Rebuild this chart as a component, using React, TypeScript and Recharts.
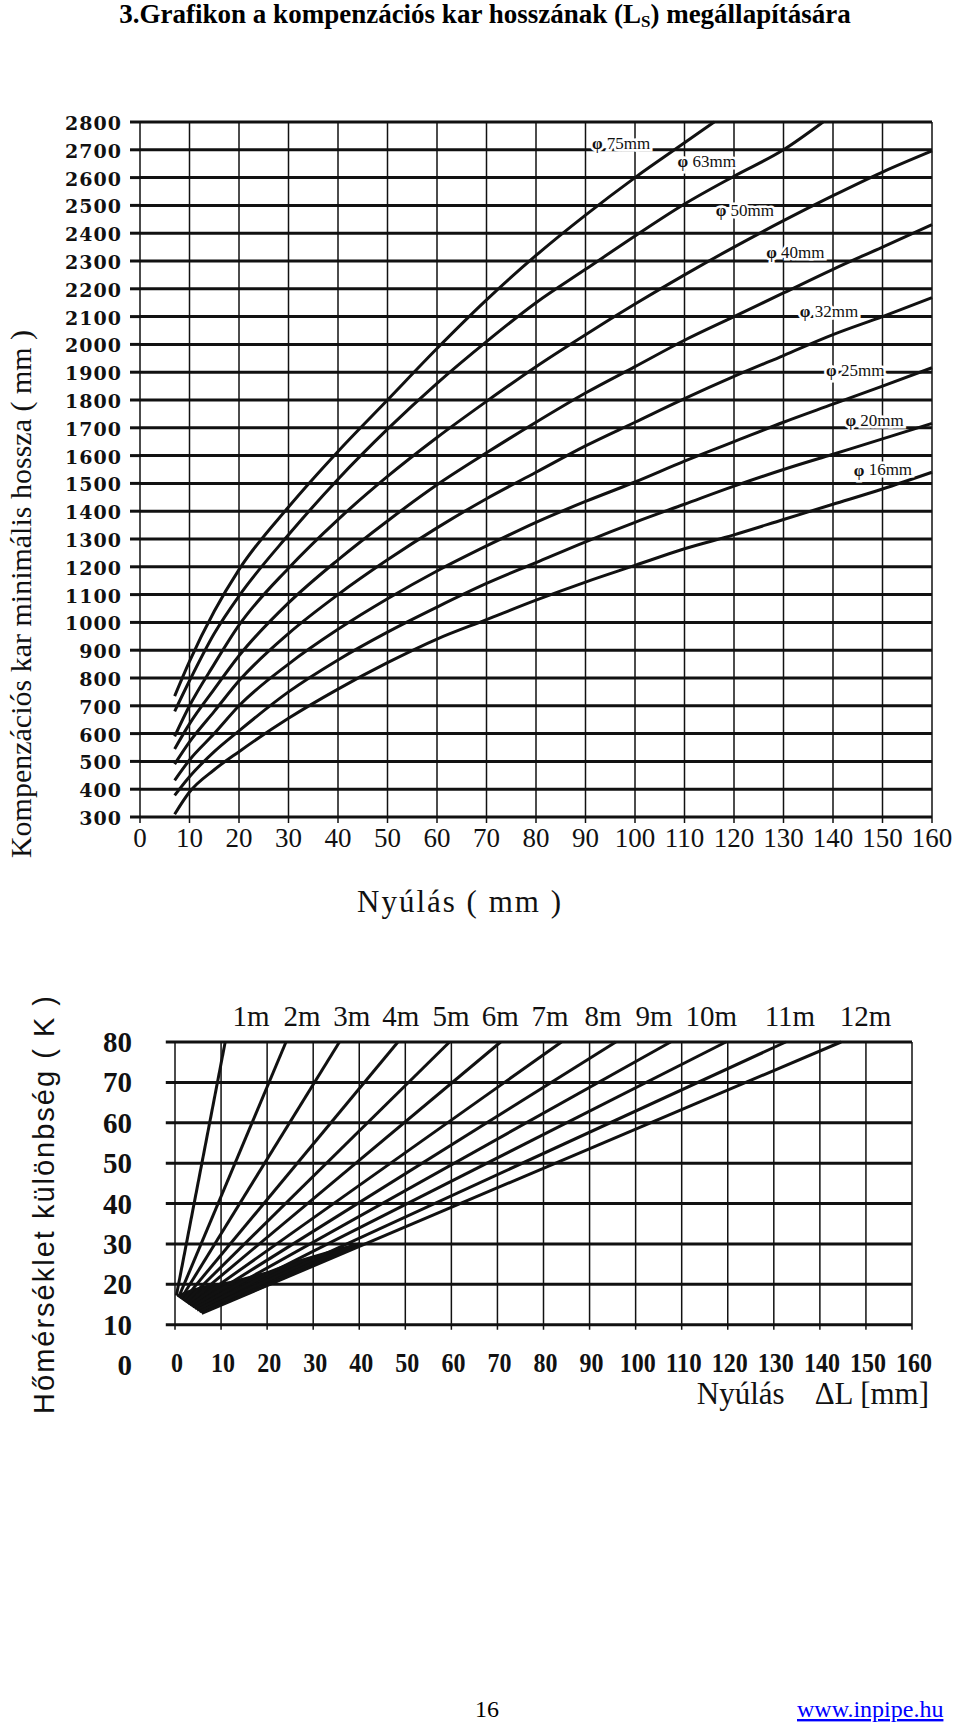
import React from 'react';
import {
  LineChart,
  ComposedChart,
  Line,
  Area,
  XAxis,
  YAxis,
  CartesianGrid,
  ReferenceLine,
  ReferenceDot,
} from 'recharts';

// ---- felső grafikon: kompenzációs kar minimális hossza ----
const nyulasTicks = [0, 10, 20, 30, 40, 50, 60, 70, 80, 90, 100, 110, 120, 130, 140, 150, 160];
const hosszTicks = [
  300, 400, 500, 600, 700, 800, 900, 1000, 1100, 1200, 1300, 1400, 1500,
  1600, 1700, 1800, 1900, 2000, 2100, 2200, 2300, 2400, 2500, 2600, 2700, 2800,
];

const atmerok = ['75mm', '63mm', '50mm', '40mm', '32mm', '25mm', '20mm', '16mm'];

const nyulasPontok = [7, 10, 15, 20, 30, 40, 50, 60, 70, 80, 90, 100, 110, 120, 130, 140, 150, 160];
const nyulas75 = [7, 10, 15, 20, 30, 40, 50, 60, 70, 80, 90, 100, 110, 116];
const nyulas63 = [7, 10, 15, 20, 30, 40, 50, 60, 70, 80, 90, 100, 110, 120, 130, 138];

const hossz75 = [735, 860, 1040, 1190, 1415, 1615, 1800, 1985, 2160, 2320, 2465, 2600, 2725, 2800];
const hossz63 = [680, 790, 960, 1095, 1315, 1515, 1695, 1860, 2010, 2150, 2270, 2390, 2505, 2605, 2700, 2800];
const hossz50 = [590, 700, 850, 990, 1195, 1370, 1525, 1665, 1795, 1920, 2035, 2145, 2250, 2350, 2445, 2535, 2620, 2696];
const hossz40 = [545, 635, 760, 880, 1070, 1225, 1365, 1495, 1610, 1720, 1825, 1920, 2015, 2100, 2185, 2270, 2350, 2431];
const hossz32 = [490, 570, 680, 790, 960, 1100, 1225, 1340, 1445, 1540, 1635, 1720, 1805, 1885, 1960, 2035, 2100, 2168];
const hossz25 = [432, 505, 600, 700, 850, 975, 1085, 1185, 1275, 1360, 1435, 1505, 1580, 1650, 1720, 1785, 1850, 1916];
const hossz20 = [378, 445, 535, 610, 750, 865, 965, 1055, 1140, 1215, 1290, 1360, 1425, 1490, 1550, 1605, 1660, 1716];
const hossz16 = [310, 390, 470, 535, 655, 760, 855, 940, 1010, 1080, 1145, 1205, 1265, 1315, 1370, 1425, 1480, 1540];

// cimkék helye (adat-koordinátában)
const cimkeHely = [
  { x: 91.3, y: 2723 },
  { x: 108.6, y: 2659 },
  { x: 116.3, y: 2482 },
  { x: 126.5, y: 2331 },
  { x: 133.3, y: 2119 },
  { x: 138.6, y: 1907 },
  { x: 142.5, y: 1728 },
  { x: 144.2, y: 1549 },
];

// ---- alsó grafikon: hőmérséklet különbség ----
const homTicks = [0, 10, 20, 30, 40, 50, 60, 70, 80];
const racsHom = [10, 20, 30, 40, 50, 60, 70, 80];
const csohosszak = ['1m', '2m', '3m', '4m', '5m', '6m', '7m', '8m', '9m', '10m', '11m', '12m'];
const kezdoNyulas = [0.3, 0.8, 1.3, 1.8, 2.3, 2.8, 3.3, 3.8, 4.3, 4.8, 5.3, 5.8];
const kezdoHom = [17.2, 16.8, 16.4, 16.0, 15.6, 15.2, 14.8, 14.4, 14.0, 13.6, 13.2, 12.8];
const vegNyulas = [10.9, 24.1, 35.7, 48.4, 59.6, 70.7, 83.9, 95.7, 107.6, 119.6, 132.6, 144.6];
const vegHom = [80, 80, 80, 80, 80, 80, 80, 80, 80, 80, 80, 80];

// a vonalak összefutásánál lévő fekete folt
const foltNyulas = [0.4, 3, 6, 12, 20, 26, 33, 40];
const foltAlso = [17, 14.9, 12.7, 15.6, 19.4, 22.4, 25.8, 29.4];
const foltFelso = [17.4, 18.6, 19.6, 20.8, 23.2, 25.8, 28.2, 30.4];

const hosszCimkeX = [16.5, 27.6, 38.4, 49.0, 59.9, 70.6, 81.4, 92.9, 104.0, 116.4, 133.5, 149.9];
const hosszCimkeY = 86.4;

const INK = '#111';
const SERIF = '"Liberation Serif", "Times New Roman", serif';

const gorbek = [
  { nev: atmerok[0], x: nyulas75, l: hossz75 },
  { nev: atmerok[1], x: nyulas63, l: hossz63 },
  { nev: atmerok[2], x: nyulasPontok, l: hossz50 },
  { nev: atmerok[3], x: nyulasPontok, l: hossz40 },
  { nev: atmerok[4], x: nyulasPontok, l: hossz32 },
  { nev: atmerok[5], x: nyulasPontok, l: hossz25 },
  { nev: atmerok[6], x: nyulasPontok, l: hossz20 },
  { nev: atmerok[7], x: nyulasPontok, l: hossz16 },
].map((g) => ({ nev: g.nev, data: g.x.map((x, i) => ({ x, v: g.l[i] })) }));

const folt = foltNyulas.map((x, i) => ({ x, band: [foltAlso[i], foltFelso[i]] }));

const egyenesek = csohosszak.map((nev, i) => ({
  nev,
  data: [
    { x: kezdoNyulas[i], k: kezdoHom[i] },
    { x: vegNyulas[i], k: vegHom[i] },
  ],
}));

const felsoXTick = (p: any) => (
  <text x={p.x} y={p.y + 15} textAnchor="middle" dominantBaseline="central"
    fontFamily={SERIF} fontSize={27} fill={INK}>
    {p.payload.value}
  </text>
);

const felsoYTick = (p: any) => (
  <text x={p.x} y={p.y + 1} textAnchor="end" dominantBaseline="central"
    fontFamily='"DejaVu Serif", serif' fontWeight="bold" fontSize={19} letterSpacing={1} fill={INK}>
    {p.payload.value}
  </text>
);

// a szkennelt ábra számai keskenyek: összenyomott szélesség
const alsoXTick = (p: any) => {
  const s = String(p.payload.value);
  return (
    <text x={p.x + 2} y={p.y - 2} textAnchor="middle" dominantBaseline="central"
      fontFamily={SERIF} fontWeight="bold" fontSize={27} fill={INK}
      textLength={s.length * 12} lengthAdjust="spacingAndGlyphs">
      {s}
    </text>
  );
};

const alsoYTick = (p: any) => (
  <text x={p.x} y={p.y} textAnchor="end" dominantBaseline="central"
    fontFamily={SERIF} fontWeight="bold" fontSize={29} fill={INK}>
    {p.payload.value}
  </text>
);

const App = () => {
  return (
    <div style={{ position: 'absolute', left: 0, top: 0, width: 960, height: 1724, background: '#fff' }}>
      <div style={{ position: 'absolute', left: 0, top: 0 }}>
        <LineChart width={960} height={960} margin={{ top: 122, right: 28, bottom: 113, left: 0 }}>
          <CartesianGrid horizontal vertical={false} stroke={INK} strokeWidth={3} />
          <CartesianGrid horizontal={false} vertical stroke={INK} strokeWidth={1.5} />
          <XAxis
            dataKey="x"
            type="number"
            domain={[0, 160]}
            ticks={nyulasTicks}
            interval={0}
            height={30}
            axisLine={false}
            tickLine={{ stroke: INK, strokeWidth: 1.5 }}
            tickSize={6}
            tickMargin={0}
            tick={felsoXTick}
          />
          <YAxis
            type="number"
            domain={[300, 2800]}
            ticks={hosszTicks}
            interval={0}
            width={140}
            axisLine={false}
            tickLine={{ stroke: INK, strokeWidth: 3 }}
            tickSize={10}
            tickMargin={8}
            tick={felsoYTick}
          />
          {gorbek.map((g) => (
            <Line
              key={g.nev}
              data={g.data}
              dataKey="v"
              type="monotone"
              stroke={INK}
              strokeWidth={3}
              dot={false}
              isAnimationActive={false}
            />
          ))}
          {gorbek.map((g, i) => (
            <ReferenceDot
              key={'c' + g.nev}
              x={cimkeHely[i].x}
              y={cimkeHely[i].y}
              r={0}
              ifOverflow="visible"
              shape={(p: any) => (
                <text x={p.cx} y={p.cy} dominantBaseline="central" fontFamily={SERIF} fontSize={17}
                  fill={INK} stroke="#fff" strokeWidth={5} paintOrder="stroke">
                  <tspan fontWeight="bold">φ</tspan> {g.nev}
                </text>
              )}
            />
          ))}
        </LineChart>
      </div>

      <div style={{ position: 'absolute', left: 0, top: 1000 }}>
        <ComposedChart width={960} height={420} margin={{ top: 42, right: 48, bottom: 25, left: 0 }}>
          <XAxis
            dataKey="x"
            type="number"
            domain={[0, 160]}
            ticks={nyulasTicks}
            interval={0}
            height={30}
            axisLine={false}
            tickLine={false}
            tickSize={0}
            tickMargin={0}
            tick={alsoXTick}
          />
          <YAxis
            type="number"
            domain={[0, 80]}
            ticks={homTicks}
            interval={0}
            width={175}
            axisLine={false}
            tickLine={false}
            tickSize={0}
            tickMargin={43}
            tick={alsoYTick}
          />
          {racsHom.map((v) => (
            <ReferenceLine
              key={'h' + v}
              segment={[{ x: -2, y: v }, { x: 160, y: v }]}
              ifOverflow="visible"
              stroke={INK}
              strokeWidth={3}
            />
          ))}
          {nyulasTicks.map((v) => (
            <ReferenceLine
              key={'v' + v}
              segment={[{ x: v, y: 8.7 }, { x: v, y: 80 }]}
              ifOverflow="visible"
              stroke={INK}
              strokeWidth={1.5}
            />
          ))}
          <Area
            data={folt}
            dataKey="band"
            type="linear"
            fill={INK}
            fillOpacity={1}
            stroke="none"
            isAnimationActive={false}
          />
          {egyenesek.map((e) => (
            <Line
              key={e.nev}
              data={e.data}
              dataKey="k"
              type="linear"
              stroke={INK}
              strokeWidth={3}
              dot={false}
              isAnimationActive={false}
            />
          ))}
          {csohosszak.map((nev, i) => (
            <ReferenceDot
              key={'l' + nev}
              x={hosszCimkeX[i]}
              y={hosszCimkeY}
              r={0}
              ifOverflow="visible"
              shape={(p: any) => (
                <text x={p.cx} y={p.cy} textAnchor="middle" dominantBaseline="central"
                  fontFamily={SERIF} fontSize={29} fill={INK}>
                  {nev}
                </text>
              )}
            />
          ))}
        </ComposedChart>
      </div>

      <svg width={960} height={1724} style={{ position: 'absolute', left: 0, top: 0, pointerEvents: 'none' }}>
        <text x={485} y={23} textAnchor="middle" fontFamily={SERIF} fontWeight="bold" fontSize={27} fill="#000">
          3.Grafikon a kompenzációs kar hosszának (L
          <tspan fontSize={17} dy={4}>S</tspan>
          <tspan dy={-4}>) megállapítására</tspan>
        </text>
        <text transform="translate(31,594) rotate(-90)" textAnchor="middle" fontFamily={SERIF} fontSize={30} fill={INK}>
          Kompenzációs kar minimális hossza ( mm )
        </text>
        <text x={460} y={912} textAnchor="middle" fontFamily={SERIF} fontSize={31} letterSpacing={2} fill={INK}>
          Nyúlás ( mm )
        </text>
        <text transform="translate(54,1204) rotate(-90)" textAnchor="middle"
          fontFamily='"Liberation Sans", Arial, sans-serif' fontSize={29} letterSpacing={2} fill={INK}>
          Hőmérséklet különbség ( K )
        </text>
        <text x={929} y={1404} textAnchor="end" fontFamily={SERIF} fontSize={31} fill={INK}>
          Nyúlás<tspan dx={30}>ΔL [mm]</tspan>
        </text>
        <text x={487} y={1717} textAnchor="middle" fontFamily={SERIF} fontSize={24} fill="#000">
          16
        </text>
        <text x={797} y={1717} fontFamily={SERIF} fontSize={24} fill="#0000ff" textDecoration="underline">
          www.inpipe.hu
        </text>
      </svg>
    </div>
  );
};

export default App;
